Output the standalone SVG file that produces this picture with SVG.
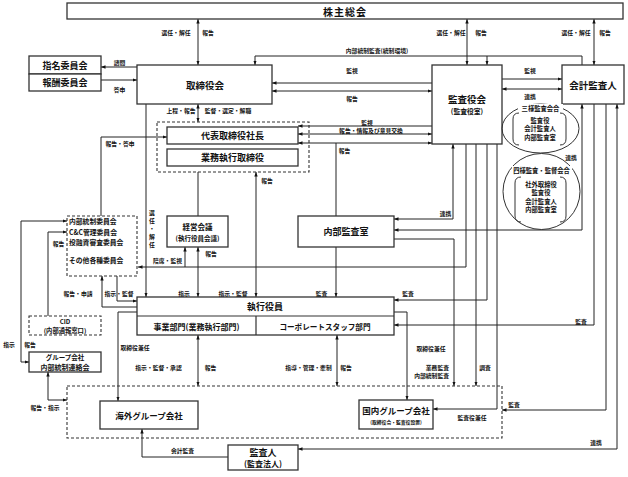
<svg xmlns="http://www.w3.org/2000/svg" width="628" height="477" viewBox="0 0 628 477">
<style>
text{font-family:"Noto Sans CJK JP","Noto Sans CJK SC",sans-serif;font-weight:700;fill:#111;text-anchor:middle;dominant-baseline:central}
.b{fill:#fff;stroke:#333;stroke-width:1.3}
.d{fill:none;stroke:#333;stroke-width:1.1;stroke-dasharray:3 2}
.c path{fill:none;stroke:#222;stroke-width:1}
.c .a{marker-end:url(#ah)}
.c .aa{marker-end:url(#ah);marker-start:url(#ah)}
.s{font-size:5.8px}
.m{font-size:7px}
.L{font-size:9px}
.XL{font-size:10px}
.e{fill:none;stroke:#333;stroke-width:1}
</style>
<defs>
<marker id="ah" viewBox="0 0 8 8" refX="8" refY="4" markerWidth="4.5" markerHeight="4.5" markerUnits="userSpaceOnUse" orient="auto-start-reverse"><path d="M0,1 L8,4 L0,7z" fill="#111"/></marker>
</defs>
<rect width="628" height="477" fill="#fff"/>

<g class="c" id="connectors">
<path class="aa" d="M198,19 V65"/>
<path class="aa" d="M467,19 V65"/>
<path class="aa" d="M594,19 V65"/>
<path class="a" d="M582,65 V56 H255 V65"/>
<path class="a" d="M487,56 V65"/>
<path class="a" d="M137,67 H101"/>
<path class="a" d="M101,80 H137"/>
<path class="a" d="M432,83 H272"/>
<path class="aa" d="M272,91 H432"/>
<path class="a" d="M502,79 H562"/>
<path class="aa" d="M502,89 H562"/>
<path class="aa" d="M198,104 V122"/>
<path class="a" d="M432,126 H298"/>
<path class="aa" d="M298,134 H432"/>
<path class="aa" d="M298,143 H432"/>
<path d="M336,216 V143"/>
<path class="a" d="M101,216 V137 H167"/>
<path d="M198,172 V216"/>
<path class="aa" d="M198,247 V297"/>
<path class="a" d="M466,144 V267 H138"/>
<path class="a" d="M185,267 V247"/>
<path class="aa" d="M256,172 V297"/>
<path class="a" d="M146,104 V297"/>
<path class="a" d="M336,247 V297"/>
<path class="aa" d="M453,144 V219 H394"/>
<path class="aa" d="M582,104 V230 H394"/>
<path class="a" d="M394,239 H454 V386"/>
<path class="a" d="M476,144 V386"/>
<path class="a" d="M487,144 V300 H394"/>
<path class="a" d="M497,144 V409 H433"/>
<path class="a" d="M594,104 V325 H394"/>
<path class="a" d="M606,104 V410 H502"/>
<path class="aa" d="M617,104 V449 H298"/>
<path class="a" d="M394,312 H407 V400"/>
<path class="a" d="M117,276 V301 H137"/>
<path class="a" d="M137,307 H102 V276"/>
<path class="a" d="M137,312 H118 V401"/>
<path class="aa" d="M198,335 V386"/>
<path class="aa" d="M337,335 V386"/>
<path class="a" d="M228,457 H142 V429"/>
<path class="aa" d="M67,221 H21 V362 H29"/>
<path class="a" d="M48,316 V232 H67"/>
<path class="aa" d="M48,372 V400 H67"/>
</g>

<g id="labels">
<text class="s" x="176" y="32">選任・解任</text><text class="s" x="208" y="32">報告</text>
<text class="s" x="451" y="32">選任・解任</text><text class="s" x="481" y="32">報告</text>
<text class="s" x="576" y="32">選任・解任</text><text class="s" x="605" y="32">報告</text>
<text class="s" x="377" y="50">内部統制監査(統制環境)</text>
<text class="s" x="119.5" y="62">諮問</text>
<text class="s" x="119.5" y="89">答申</text>
<text class="s" x="352" y="70">監視</text>
<text class="s" x="352" y="98">報告</text>
<text class="s" x="530" y="70">監視</text>
<text class="s" x="530" y="96">連携</text>
<text class="s" x="181" y="110">上程・報告</text>
<text class="s" x="228" y="110">監督・選定・解職</text>
<text class="s" x="367" y="122">監視</text>
<text class="s" x="371" y="130">報告・情報及び意見交換</text>
<text class="s" x="344.5" y="150">報告</text>
<text class="s" x="120" y="143">報告・答申</text>
<text class="s" x="152" y="212">選<tspan x="152" dy="8">任</tspan><tspan x="152" dy="8">・</tspan><tspan x="152" dy="8">解</tspan><tspan x="152" dy="8">任</tspan></text>
<text class="s" x="211" y="253">報告</text>
<text class="s" x="167.5" y="260">陪席・監視</text>
<text class="s" x="267" y="180">報告</text>
<text class="s" x="184" y="293">指示</text>
<text class="s" x="233" y="293">指示・監督</text>
<text class="s" x="321.5" y="293">監査</text>
<text class="s" x="408" y="293">監査</text>
<text class="s" x="445.5" y="213">連携</text>
<text class="s" x="58.5" y="243">報告</text>
<text class="s" x="78" y="293">報告・申請</text>
<text class="s" x="119" y="293">指示・監督</text>
<text class="s" x="9" y="344">指示</text>
<text class="s" x="30" y="344">報告</text>
<text class="s" x="135" y="347">取締役兼任</text>
<text class="s" x="158.5" y="367">指示・監督・承認</text>
<text class="s" x="210.5" y="367">報告</text>
<text class="s" x="308.5" y="367">指導・管理・牽制</text>
<text class="s" x="346" y="367">報告</text>
<text class="s" x="431" y="348">取締役兼任</text>
<text class="s" x="449" y="367" style="text-anchor:end">業務監査</text>
<text class="s" x="449" y="375" style="text-anchor:end">内部統制監査</text>
<text class="s" x="485" y="367">調査</text>
<text class="s" x="472" y="417">監査役兼任</text>
<text class="s" x="514" y="404">監査</text>
<text class="s" x="581" y="321">監査</text>
<text class="s" x="596" y="442">連携</text>
<text class="s" x="45" y="407">報告・指示</text>
<text class="s" x="182.5" y="450">会計監査</text>
<text class="s" x="571" y="157">連携</text>
</g>

<g id="n-shareholders"><rect class="b" x="67" y="3" width="556" height="16"/><text class="XL" x="345" y="11" letter-spacing="1">株主総会</text></g>
<g id="n-nomination"><rect class="b" x="29" y="56" width="72" height="18"/><text class="L" x="65" y="65">指名委員会</text></g>
<g id="n-remuneration"><rect class="b" x="29" y="74" width="72" height="17"/><text class="L" x="65" y="82.5">報酬委員会</text></g>
<g id="n-board"><rect class="b" x="137" y="65" width="135" height="39"/><text class="L" x="205" y="84.5" style="font-size:9.5px">取締役会</text></g>
<g id="n-kansayakukai"><rect class="b" x="432" y="65" width="70" height="79"/><text class="L" x="467" y="98.5" style="font-size:9.5px">監査役会</text><text class="m" x="467" y="110.5" style="font-size:6.8px">(監査役室)</text></g>
<g id="n-auditor"><rect class="b" x="562" y="65" width="62" height="39"/><text class="L" x="593" y="84.5" style="font-size:9.5px">会計監査人</text></g>
<g id="n-president"><rect class="d" x="157" y="122" width="152" height="50"/><rect class="b" x="167" y="127" width="131" height="17"/><text class="L" x="232.5" y="135.5">代表取締役社長</text></g>
<g id="n-exec-directors"><rect class="b" x="167" y="149" width="131" height="17"/><text class="L" x="232.5" y="157.5">業務執行取締役</text></g>
<g id="n-management"><rect class="b" x="167" y="216" width="61" height="31"/><text class="m" x="197.5" y="226.5" style="font-size:7.5px">経営会議</text><text class="m" x="197.5" y="237.5" style="font-size:6.5px">(執行役員会議)</text></g>
<g id="n-internal-audit"><rect class="b" x="298" y="216" width="96" height="31"/><text class="L" x="346" y="231.5">内部監査室</text></g>
<g id="n-committees"><rect class="d" x="67" y="216" width="70" height="60"/>
<text class="m" x="69" y="221" style="text-anchor:start;font-size:6.8px">内部統制委員会</text>
<text class="m" x="69" y="232" style="text-anchor:start;font-size:6.8px">C&amp;C管理委員会</text>
<text class="m" x="69" y="242" style="text-anchor:start;font-size:6.8px">投融資審査委員会</text>
<text class="m" x="69" y="260" style="text-anchor:start;font-size:6.8px">その他各種委員会</text></g>
<g id="n-cid"><rect class="d" x="29" y="316" width="72" height="19"/><text class="m" x="65" y="321.5" style="font-size:6.3px">CID</text><text class="m" x="65" y="330.5" style="font-size:6.3px">(内部通報窓口)</text></g>
<g id="n-group-liaison"><rect class="b" x="29" y="352" width="72" height="20"/><text class="m" x="65" y="357" style="font-size:6.5px">グループ会社</text><text class="m" x="65" y="367">内部統制連絡会</text></g>
<g id="n-officers"><rect class="b" x="137" y="297" width="257" height="38"/><path d="M137,316 H394 M256,316 V335" stroke="#333" stroke-width="1.2" fill="none"/>
<text class="L" x="265" y="306.5">執行役員</text>
<text class="m" x="196.5" y="326" style="font-size:8px">事業部門(業務執行部門)</text>
<text class="m" x="325" y="326" style="font-size:7.6px">コーポレートスタッフ部門</text></g>
<g id="n-group-companies"><rect class="d" x="67" y="386" width="435" height="52"/></g>
<g id="n-overseas"><rect class="b" x="100" y="401" width="98" height="28"/><text class="L" x="149" y="415" style="font-size:8.5px">海外グループ会社</text></g>
<g id="n-domestic"><rect class="b" x="359" y="400" width="74" height="29"/><text class="L" x="396" y="410" style="font-size:8.5px">国内グループ会社</text><text class="s" x="396" y="421" style="font-size:4.8px">(取締役会・監査役設置)</text></g>
<g id="n-kansanin"><rect class="b" x="228" y="445" width="70" height="25"/><text class="L" x="263" y="452">監査人</text><text class="m" x="263" y="463.5" style="font-size:8px">(監査法人)</text></g>
<g id="n-sanyo"><ellipse class="e" cx="540.5" cy="128.5" rx="38.5" ry="24.5"/>
<path class="e" d="M519,113 Q513,113 513,119 V139 Q513,145 519,145 M560,113 Q566,113 566,119 V139 Q566,145 560,145"/>
<rect x="518" y="104" width="45" height="8" fill="#fff"/>
<text class="s" x="540.5" y="108" style="font-size:6.3px">三様監査会合</text>
<text class="s" x="540" y="120" style="font-size:6.3px">監査役</text>
<text class="s" x="540" y="128.5" style="font-size:6.3px">会計監査人</text>
<text class="s" x="540" y="137" style="font-size:6.3px">内部監査室</text></g>
<g id="n-yonyo"><ellipse class="e" cx="541.5" cy="191.5" rx="38.5" ry="38"/>
<path class="e" d="M521,177 Q515,177 515,183 V216 Q515,222 521,222 M560,177 Q566,177 566,183 V216 Q566,222 560,222"/>
<rect x="512" y="166" width="60" height="8" fill="#fff"/>
<text class="s" x="541.5" y="170" style="font-size:6.3px">四様監査・監督会合</text>
<text class="s" x="541" y="184" style="font-size:6.3px">社外取締役</text>
<text class="s" x="541" y="192.5" style="font-size:6.3px">監査役</text>
<text class="s" x="541" y="201" style="font-size:6.3px">会計監査人</text>
<text class="s" x="541" y="209.5" style="font-size:6.3px">内部監査室</text></g>
</svg>
